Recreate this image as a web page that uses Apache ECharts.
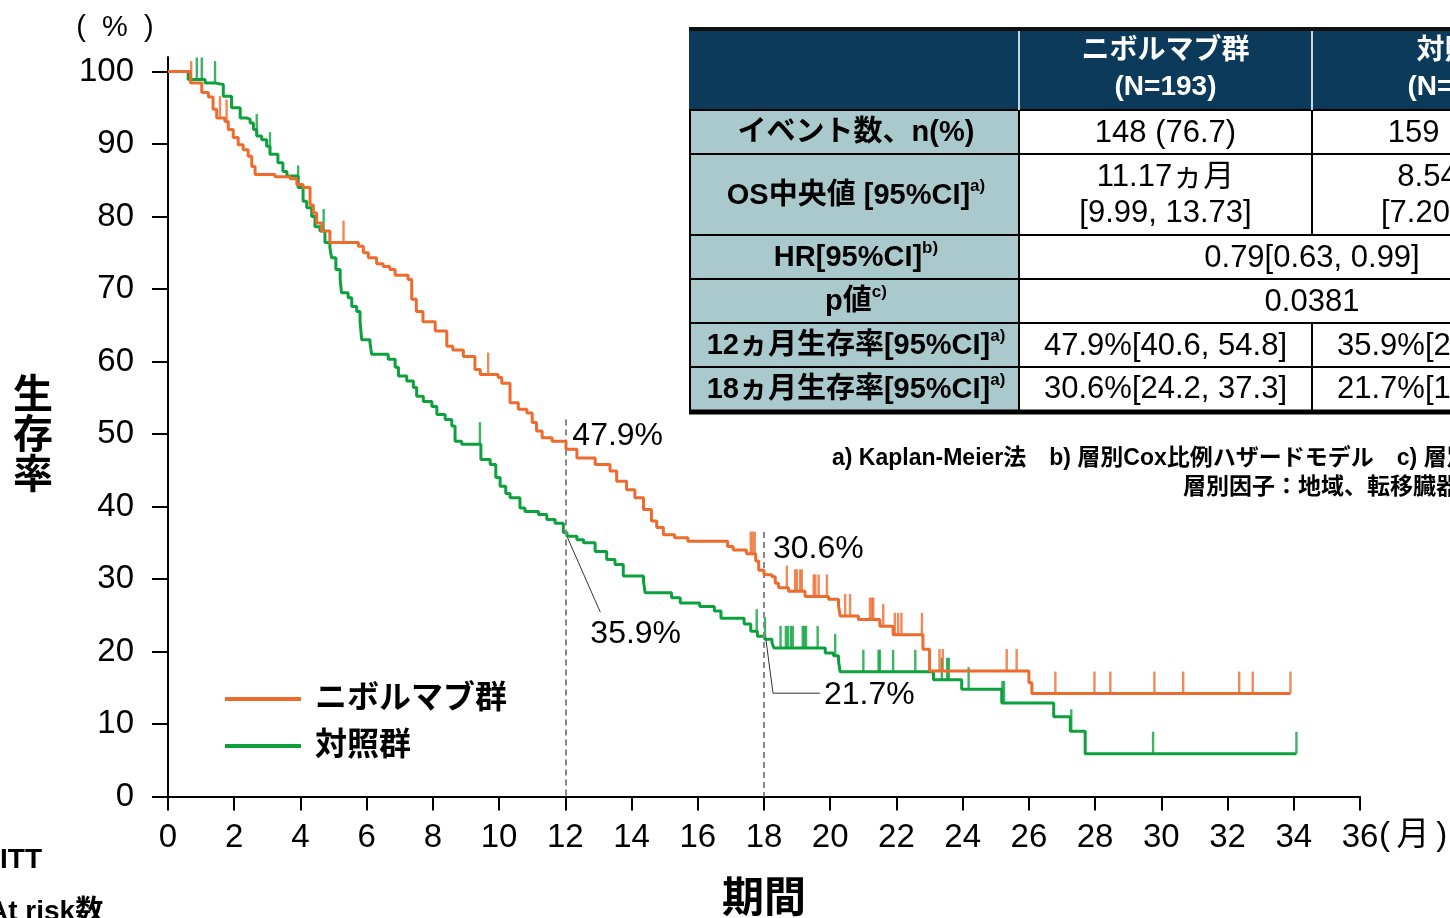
<!DOCTYPE html>
<html><head><meta charset="utf-8">
<script src="https://cdn.jsdelivr.net/npm/echarts@6/dist/echarts.min.js"></script>
<style>html,body{margin:0;padding:0;background:#fff;overflow:hidden}#c{width:1450px;height:918px}</style>
</head><body><div id="c"></div>
<script>
// ---------- data ----------
const seriesNames = ['ニボルマブ群', '対照群'];
const xTicks = [0,2,4,6,8,10,12,14,16,18,20,22,24,26,28,30,32,34,36];
const yTicks = [0,10,20,30,40,50,60,70,80,90,100];

// Kaplan-Meier steps [month, survival %]
const nivoSteps = [[0,100],[0.68,98.4],[1.02,97.1],[1.22,96.5],[1.36,94.8],[1.47,93.6],[1.72,93.1],[1.82,92.0],[1.97,90.9],[2.12,89.9],[2.27,89.2],[2.42,88.3],[2.53,86.9],[2.63,85.8],[3.23,85.5],[3.69,85.2],[3.89,84.4],[4.08,84.0],[4.29,81.6],[4.39,80.5],[4.49,79.1],[4.64,78.0],[4.89,76.4],[5.75,75.9],[5.9,75.0],[6.05,74.3],[6.3,73.5],[6.5,73.1],[6.7,72.7],[6.86,71.9],[7.25,71.3],[7.36,68.6],[7.5,66.9],[7.7,65.5],[8.07,64.2],[8.42,62.1],[8.6,61.6],[8.92,60.7],[9.27,58.9],[9.43,58.2],[9.97,57.8],[10.08,57.0],[10.33,54.3],[10.58,53.4],[10.84,52.9],[11.0,51.6],[11.13,50.4],[11.3,49.5],[11.6,49.0],[12.02,47.9],[12.35,46.7],[12.9,45.8],[13.35,44.9],[13.55,43.5],[13.85,42.3],[14.1,41.2],[14.36,39.6],[14.6,38.0],[14.76,37.1],[14.96,36.1],[15.3,35.7],[15.7,35.2],[16.9,34.5],[17.07,34.0],[17.47,33.5],[17.75,32.5],[17.84,31.2],[18.0,30.6],[18.24,30.3],[18.34,29.4],[18.44,28.8],[18.74,28.3],[19.24,27.6],[19.95,27.2],[20.25,26.3],[20.3,24.9],[20.85,24.4],[21.5,23.5],[21.9,22.3],[22.8,20.3],[23.0,17.3],[26.0,15.7],[26.09,14.2],[33.9,14.2]];
const ctrlSteps = [[0,100],[0.61,98.9],[1.12,98.4],[1.44,98.2],[1.67,96.6],[1.92,95.0],[2.18,93.6],[2.38,93.4],[2.48,92.9],[2.58,92.0],[2.68,91.1],[2.83,90.6],[2.98,89.7],[3.08,88.6],[3.32,87.4],[3.47,86.2],[3.59,85.6],[3.93,84.0],[4.08,82.1],[4.19,81.2],[4.34,80.0],[4.44,78.6],[4.59,78.0],[4.74,76.4],[4.89,75.7],[4.94,74.3],[5.07,72.7],[5.2,71.3],[5.24,69.5],[5.44,68.8],[5.55,67.6],[5.7,66.9],[5.8,65.5],[5.85,63.0],[6.1,62.6],[6.15,61.0],[6.65,60.3],[6.86,59.2],[6.96,58.0],[7.21,57.3],[7.41,56.4],[7.51,55.2],[7.71,54.5],[7.97,53.8],[8.12,52.7],[8.37,52.0],[8.57,51.1],[8.67,49.0],[8.87,48.6],[9.45,46.5],[9.73,45.8],[9.9,44.0],[10.03,42.8],[10.2,41.8],[10.33,41.2],[10.63,39.8],[10.78,39.3],[11.19,38.9],[11.44,38.2],[11.69,37.7],[11.94,36.4],[12.05,35.9],[12.35,35.4],[12.55,35.0],[12.9,33.8],[13.25,32.7],[13.5,32.0],[13.75,30.4],[14.36,29.7],[14.41,28.1],[15.21,27.4],[15.47,26.7],[16.06,26.2],[16.5,25.6],[16.7,24.6],[17.4,23.8],[17.6,22.8],[17.8,22.1],[18.02,21.7],[18.24,21.2],[18.3,20.5],[19.85,19.8],[20.1,19.4],[20.25,18.7],[20.3,17.2],[23.12,16.1],[23.97,14.8],[25.18,12.9],[26.75,11.0],[27.25,9.0],[27.7,5.9],[34.08,5.9]];

// censoring times (months)
const nivoCensor = [0.7,1.57,1.77,5.3,9.67,17.6,17.66,17.72,18.69,18.94,18.99,19.09,19.14,19.5,19.55,19.65,19.9,20.45,20.6,21.2,21.26,21.3,21.6,21.95,22.05,22.15,22.77,23.3,23.4,25.33,25.63,26.8,27.98,28.46,29.79,30.66,32.35,32.76,33.9];
const ctrlCensor = [0.87,1.02,1.42,2.68,3.08,3.93,4.7,9.42,17.78,18.03,18.5,18.66,18.72,18.81,18.87,19.17,19.22,19.27,19.62,20.15,21.0,21.46,21.5,21.9,22.57,23.37,23.53,23.58,24.18,25.2,25.25,27.28,29.75,34.08];

// landmark annotations
const landmarkMonths = [12, 18];
const landmarkLineTop = [52, 36.5];
const nivoLandmarkVal = [47.9, 30.6];
const ctrlLandmarkVal = [35.9, 21.7];

// table
const tableHeader = ['', 'ニボルマブ群\n(N=193)', '対照群\n(N=197)'];
const tableRowLabels = ['イベント数、n(%)', 'OS中央値 [95%CI]', 'HR[95%CI]', 'p値', '12ヵ月生存率[95%CI]', '18ヵ月生存率[95%CI]'];
const tableRowNotes = ['', 'a)', 'b)', 'c)', 'a)', 'a)'];
const tableNivo = ['148 (76.7)', '11.17ヵ月\n[9.99, 13.73]', '0.79[0.63, 0.99]', '0.0381', '47.9%[40.6, 54.8]', '30.6%[24.2, 37.3]'];
const tableCtrl = ['159 (80.7)', '8.54ヵ月\n[7.20, 9.95]', null, null, '35.9%[29.2, 42.7]', '21.7%[16.0, 28.0]'];
const footnotes = ['a) Kaplan-Meier法　b) 層別Cox比例ハザードモデル　c) 層別log-rank検定', '層別因子：地域、転移臓器数'];

// ---------- chart ----------
const FONT = '"Liberation Sans","Noto Sans CJK JP",sans-serif';
const ORANGE = '#EE6B2E';
const GREEN = '#0CA13D';

function survAt(steps, t) {
  let s = steps[0][1];
  for (const p of steps) { if (p[0] <= t) s = p[1]; else break; }
  return s;
}

const chart = echarts.init(document.getElementById('c'), null, {renderer: 'canvas'});

const censorSeries = (name, steps, times, color) => ({
  type: 'scatter', name: name + '_c', data: times.map(t => [t, survAt(steps, t)]),
  symbol: 'rect', symbolSize: [2.4, 22], symbolOffset: [0, '-50%'],
  itemStyle: {color: color}, silent: true, z: 4, animation: false
});

const option = {
  animation: false,
  grid: {left: 168, right: 90, top: 57, bottom: 121.5},
  legend: {
    orient: 'vertical', left: 225, top: 683, padding: 0, itemWidth: 76, itemHeight: 4, itemGap: 15,
    icon: 'rect', data: seriesNames, selectedMode: false,
    textStyle: {fontFamily: FONT, fontSize: 32, fontWeight: 'bold', color: '#000', padding: [0, 0, 0, 9]}
  },
  xAxis: {
    type: 'value', min: 0, max: 36, interval: 2,
    axisLine: {lineStyle: {color: '#000', width: 2}},
    axisTick: {length: 14, lineStyle: {color: '#000', width: 2}},
    axisLabel: {fontFamily: FONT, fontSize: 33, color: '#000', margin: 25, customValues: xTicks},
    splitLine: {show: false}
  },
  yAxis: {
    type: 'value', min: 0, max: 102,
    axisLine: {show: true, lineStyle: {color: '#000', width: 2}},
    axisTick: {show: true, length: 16, lineStyle: {color: '#000', width: 2}, customValues: yTicks},
    axisLabel: {fontFamily: FONT, fontSize: 33, color: '#000', margin: 34, padding: [7, 0, 0, 0], customValues: yTicks},
    splitLine: {show: false}
  },
  series: [
    {
      type: 'line', name: seriesNames[1], data: ctrlSteps, step: 'end', showSymbol: false,
      lineStyle: {color: GREEN, width: 3}, itemStyle: {color: GREEN}, z: 3, silent: true
    },
    {
      type: 'line', name: seriesNames[0], data: nivoSteps, step: 'end', showSymbol: false,
      lineStyle: {color: ORANGE, width: 3}, itemStyle: {color: ORANGE}, z: 5, silent: true,
      markLine: {
        silent: true, symbol: 'none', label: {show: false},
        lineStyle: {color: '#888', width: 2, type: [6, 4]},
        data: landmarkMonths.map((m, i) => [{coord: [m, landmarkLineTop[i]]}, {coord: [m, 0]}])
      }
    },
    censorSeries(seriesNames[1], ctrlSteps, ctrlCensor, GREEN),
    censorSeries(seriesNames[0], nivoSteps, nivoCensor, ORANGE)
  ]
};
chart.setOption(option);

// ---------- graphics (annotations, titles, table) ----------
const px = (t, s) => chart.convertToPixel({gridIndex: 0}, [t, s]);
const g = [];
const txt = (x, y, text, o) => g.push(Object.assign({type: 'text', x: x, y: y, z: 100,
  style: Object.assign({text: text, fontFamily: FONT, fontSize: 32, fill: '#000', align: 'left', verticalAlign: 'middle'}, o || {})}));
const line = (x1, y1, x2, y2, stroke, w) => g.push({type: 'line', z: 100, shape: {x1, y1, x2, y2}, style: {stroke: stroke, lineWidth: w}});
const pct = v => v.toFixed(1) + '%';

// landmark labels
const n12 = px(landmarkMonths[0], nivoLandmarkVal[0]);
const n18 = px(landmarkMonths[1], nivoLandmarkVal[1]);
const c12 = px(landmarkMonths[0], ctrlLandmarkVal[0]);
const c18 = px(landmarkMonths[1], ctrlLandmarkVal[1]);
txt(n12[0] + 7, n12[1] - 13, pct(nivoLandmarkVal[0]));
txt(n18[0] + 9, n18[1] - 25, pct(nivoLandmarkVal[1]));
line(c12[0] + 2, c12[1] + 1, c12[0] + 35, c12[1] + 76, '#333', 1);
txt(c12[0] + 25, c12[1] + 98, pct(ctrlLandmarkVal[0]));
g.push({type: 'polyline', z: 100, shape: {points: [[c18[0] + 2, c18[1] + 1], [c18[0] + 9, c18[1] + 54], [c18[0] + 56, c18[1] + 54]]}, style: {stroke: '#333', lineWidth: 1, fill: null}});
txt(c18[0] + 60, c18[1] + 56, pct(ctrlLandmarkVal[1]));

// axis titles
txt(115, 28, '(  %  )', {fontSize: 29, align: 'center'});
txt(33, 437, '生\n存\n率', {fontSize: 40, fontWeight: 'bold', align: 'center', lineHeight: 40});
txt(764, 900, '期間', {fontSize: 42, fontWeight: 'bold', align: 'center'});
const x36 = px(36, 0);
txt(x36[0] + 19, 836, '(\u2009月\u2009)', {fontSize: 33});
txt(0, 860, 'ITT', {fontSize: 28, fontWeight: 'bold'});
txt(-12, 912, 'At risk数', {fontSize: 28, fontWeight: 'bold'});

// table
const cols = [689, 1019, 1312, 1605];
const rows = [31, 110, 154, 235, 279, 323, 367, 410];
g.push({type: 'rect', z: 90, shape: {x: cols[0], y: rows[0], width: cols[3] - cols[0], height: rows[1] - rows[0]}, style: {fill: '#0B3A5A'}});
g.push({type: 'rect', z: 90, shape: {x: cols[0], y: rows[1], width: cols[1] - cols[0], height: rows[7] - rows[1]}, style: {fill: '#AAC9CC'}});
g.push({type: 'rect', z: 90, shape: {x: cols[1], y: rows[1], width: cols[3] - cols[1], height: rows[7] - rows[1]}, style: {fill: '#fff'}});
for (let i = 2; i < 7; i++) line(cols[0], rows[i], cols[3], rows[i], '#000', 2);
line(cols[0], rows[1], cols[3], rows[1], '#000', 2);
line(cols[0], 29, cols[3], 29, '#111', 4);
line(cols[0], 412, cols[3], 412, '#000', 5);
line(cols[0] + 1, rows[1], cols[0] + 1, rows[7], '#000', 2);
line(cols[1], rows[0], cols[1], rows[1], '#C8D4DC', 2);
line(cols[2], rows[0], cols[2], rows[1], '#C8D4DC', 2);
line(cols[1], rows[1], cols[1], rows[7], '#000', 2);
[0, 1, 4, 5].forEach(i => line(cols[2], rows[i + 1], cols[2], rows[i + 2], '#000', 2));

const colCx = c => (cols[c] + cols[c + 1]) / 2;
[1, 2].forEach(c => {
  const parts = tableHeader[c].split('\n');
  txt(colCx(c), 51, parts[0], {fontSize: 28, fontWeight: 'bold', fill: '#fff', align: 'center'});
  txt(colCx(c), 87, parts[1], {fontSize: 28, fontWeight: 'bold', fill: '#fff', align: 'center'});
});
tableRowLabels.forEach((lab, i) => {
  const cy = (rows[i + 1] + rows[i + 2]) / 2 + 1;
  g.push({type: 'text', z: 100, x: colCx(0) + 2, y: cy, style: {
    text: '{m|' + lab + '}' + (tableRowNotes[i] ? '{s|' + tableRowNotes[i] + '}' : ''),
    align: 'center', verticalAlign: 'middle',
    rich: {m: {fontFamily: FONT, fontSize: 29, fontWeight: 'bold', fill: '#000', lineHeight: 36},
           s: {fontFamily: FONT, fontSize: 17, fontWeight: 'bold', fill: '#000', verticalAlign: 'top', lineHeight: 36, padding: [0, 0, 12, 0]}}
  }});
  const vals = [tableNivo[i], tableCtrl[i]];
  if (vals[1] === null) {
    txt((cols[1] + cols[3]) / 2, cy, vals[0], {fontSize: 31, align: 'center'});
  } else {
    vals.forEach((v, k) => {
      const parts = v.split('\n');
      if (parts.length === 1) txt(colCx(k + 1), cy, v, {fontSize: 31, align: 'center'});
      else {
        txt(colCx(k + 1), cy - 18, parts[0], {fontSize: 31, align: 'center'});
        txt(colCx(k + 1), cy + 18, parts[1], {fontSize: 31, align: 'center'});
      }
    });
  }
});
txt(832, 459, footnotes[0], {fontSize: 23, fontWeight: 'bold'});
txt(1183, 488, footnotes[1], {fontSize: 23, fontWeight: 'bold'});

chart.setOption({graphic: g});
</script>
</body></html>
